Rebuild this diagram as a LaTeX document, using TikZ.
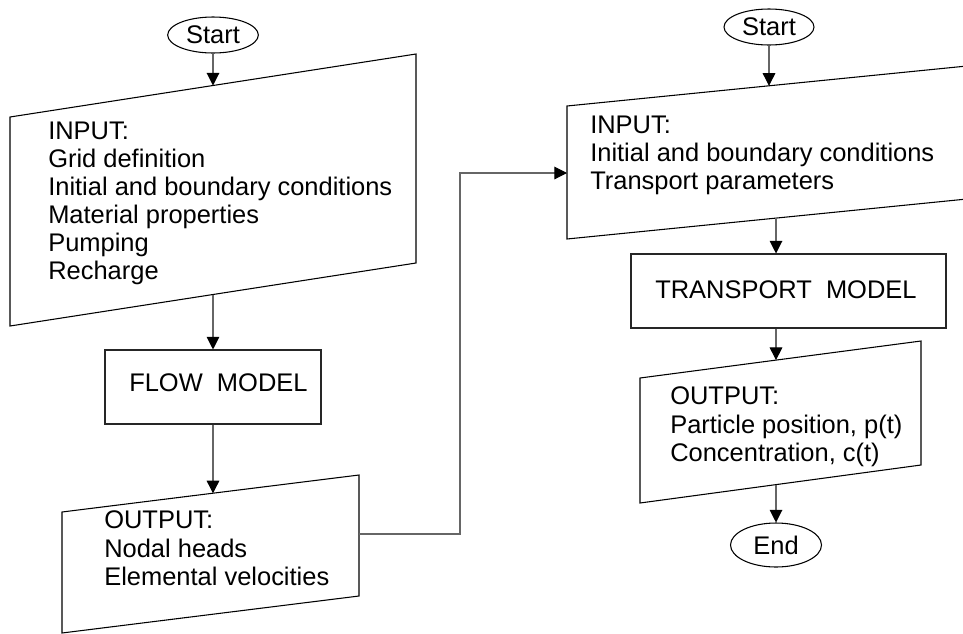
\documentclass[tikz,border=0pt]{standalone}
\usepackage{fontspec}
\setmainfont{Liberation Sans}
\usetikzlibrary{arrows.meta,shapes.geometric,calc}

\newcommand\chartfont{\fontsize{19.1pt}{21.1pt}\selectfont}

\tikzset{
  term/.style={ellipse, draw=black, line width=0.8pt, inner sep=0pt, font=\chartfont},
  procbox/.style={draw=black!85, line width=0.8pt, inner sep=0pt},
  iobox/.style={draw=black, line width=0.8pt},
  % multi-line text: the base anchor sits on the baseline of the last line
  txt/.style={anchor=base west, inner sep=0pt, align=left, font=\chartfont},
  flow/.style={draw=black!60, line width=0.8pt,
    -{Triangle[length=9.5pt,width=9.5pt,color=black]}}
}

\begin{document}
\begin{tikzpicture}[x=0.75pt,y=-0.75pt]
\useasboundingbox (0,0) rectangle (963,633);
\clip (0,0) rectangle (963,633);

% ---------------- flow model column ----------------
\node[term, minimum width=68pt, minimum height=27pt] (start1) at (213,35) {Start};

\draw[iobox] (10,117) -- (416,54) -- (416,263) -- (10,326) -- cycle;
\coordinate (in1top) at (213,85.5);
\coordinate (in1bot) at (213,294.5);
\node[txt] (in1text) at (48,279.8)
  {INPUT:\\Grid definition\\Initial and boundary conditions\\Material properties\\Pumping\\Recharge};

\node[procbox, minimum width=162pt, minimum height=55.5pt] (flow) at (213,387) {};
\node[txt] (flowtext) at (129,391) {FLOW~~MODEL};

\draw[iobox] (62,512) -- (359,475) -- (359,596) -- (62,633) -- cycle;
\coordinate (out1top) at (213,493.3);
\coordinate (out1right) at (359,534);
\node[txt] (out1text) at (104,585.2)
  {OUTPUT:\\Nodal heads\\Elemental velocities};

% ---------------- transport model column ----------------
\node[term, minimum width=67.5pt, minimum height=27pt] (start2) at (769,27) {Start};

\draw[iobox] (567,106) -- (975,65.2) -- (975,198.2) -- (567,239) -- cycle;
\coordinate (in2top) at (769,85.8);
\coordinate (in2bot) at (776,218.1);
\coordinate (in2left) at (567,173);
\node[txt] (in2text) at (590,189.5)
  {INPUT:\\Initial and boundary conditions\\Transport parameters};

\node[procbox, minimum width=236.25pt, minimum height=55.5pt] (transport) at (788.5,291) {};
\node[txt] (transtext) at (655,298) {TRANSPORT~~MODEL};

\draw[iobox] (640,378) -- (921,341) -- (921,465) -- (640,503) -- cycle;
\coordinate (out2top) at (776,360.1);
\coordinate (out2bot) at (776,484.6);
\node[txt] (out2text) at (670,461.2)
  {OUTPUT:\\Particle position, p(t)\\Concentration, c(t)};

\node[term, minimum width=68.25pt, minimum height=33pt] (end) at (776,545) {End};

% ---------------- connectors ----------------
\draw[flow] (start1) -- (in1top);
\draw[flow] (in1bot) -- (flow.north);
\draw[flow] (flow.south) -- (out1top);
\coordinate (bend) at (460,173);
\draw[flow] (out1right) -| (bend) -- (in2left);

\draw[flow] (start2) -- (in2top);
\draw[flow] (in2bot) -- (in2bot |- transport.north);
\draw[flow] (out2top |- transport.south) -- (out2top);
\draw[flow] (out2bot) -- (end);
\end{tikzpicture}
\end{document}
